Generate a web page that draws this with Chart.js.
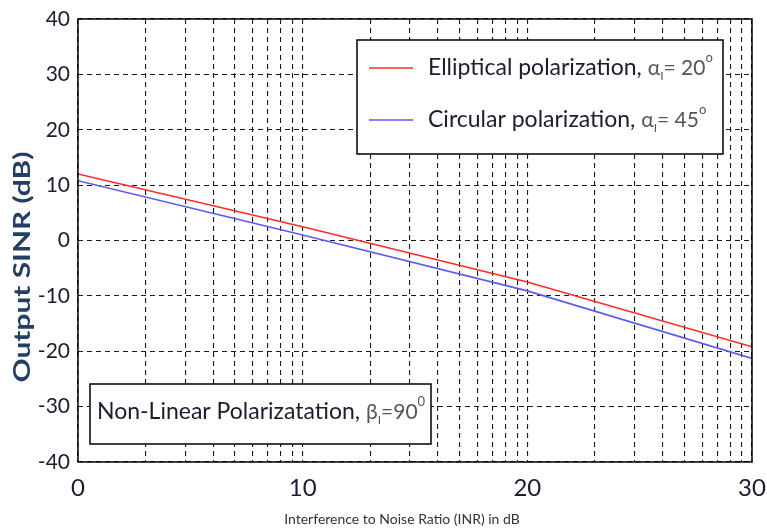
<!DOCTYPE html>
<html>
<head>
<meta charset="utf-8">
<script src="https://cdn.jsdelivr.net/npm/chart.js@4/dist/chart.umd.min.js"></script>
<style>
  html, body { margin: 0; padding: 0; background: #fff; }
  #wrap { width: 767px; height: 531px; }
</style>
</head>
<body>
<div id="wrap"><canvas id="sinrChart"></canvas></div>
<script>
'use strict';

// INR in dB (x axis is logarithmic in linear INR, labelled in dB)
var inrDb = [0, 10, 20, 30];
var ellipticalSinr = [12.0, 2.5, -7.5, -19.2];
var circularSinr = [10.8, 1.0, -9.1, -21.3];

var xTickValues = [1, 10, 100, 1000];
var xTickLabels = ['0', '10', '20', '30'];
var yTicks = [-40, -30, -20, -10, 0, 10, 20, 30, 40];
var yTitle = 'Output SINR (dB)';
var xTitle = 'Interference to Noise Ratio (INR) in dB';

var colors = {
  red      : '#ff2b2b',
  blue     : '#5b5bf2',
  grid     : '#1a1a1a',
  text     : '#1c1c2c',
  subtext  : '#555555',
  yTitle   : '#233f66'
};

var fontFamily = "Lato, 'Open Sans', 'DejaVu Sans', sans-serif";

function toPoints(ys) {
  return inrDb.map(function(d, i) { return { x: Math.pow(10, d / 10), y: ys[i] }; });
}

// gridlines of a log axis: 1..9 in every decade
function logGridTicks(scale) {
  var ticks = [];
  for (var dec = 1; dec < 1000; dec *= 10) {
    for (var m = 1; m < 10; m++) ticks.push({ value: m * dec });
  }
  ticks.push({ value: 1000 });
  scale.ticks = ticks;
}

// draws text pieces: [text, color, size, dy]
function drawRich(ctx, x, y, parts) {
  parts.forEach(function(p) {
    ctx.font = p[2] + 'px ' + fontFamily;
    ctx.fillStyle = p[1];
    ctx.fillText(p[0], x, y + (p[3] || 0));
    x += ctx.measureText(p[0]).width;
  });
}

var boxesPlugin = {
  id: 'boxes',
  afterDraw: function(chart) {
    var ctx = chart.ctx;
    var a = chart.chartArea;
    ctx.save();
    ctx.setLineDash([]);
    // axes box
    ctx.strokeStyle = '#000';
    ctx.lineWidth = 1.5;
    ctx.strokeRect(a.left, a.top, a.right - a.left, a.bottom - a.top);

    // y title, stretched along its length like the original
    ctx.save();
    ctx.translate(23, 267);
    ctx.rotate(-Math.PI / 2);
    ctx.font = 'bold 23px ' + fontFamily;
    var tw = ctx.measureText(yTitle).width;
    ctx.scale(231 / tw, 1);
    ctx.fillStyle = colors.yTitle;
    ctx.textAlign = 'center';
    ctx.textBaseline = 'middle';
    ctx.fillText(yTitle, 0, 0);
    ctx.restore();

    // x title
    ctx.save();
    ctx.font = '14px ' + fontFamily;
    ctx.fillStyle = '#333';
    ctx.textAlign = 'center';
    ctx.textBaseline = 'middle';
    ctx.fillText(xTitle, 402, 519);
    ctx.restore();

    // legend
    var lx = 357, ly = 40, lw = 366, lh = 114;
    ctx.fillStyle = '#fff';
    ctx.fillRect(lx, ly, lw, lh);
    ctx.strokeRect(lx, ly, lw, lh);
    ctx.textBaseline = 'middle';
    var rows = [
      { c: colors.red, y: 68, label: chart.data.datasets[0].label, ang: '20' },
      { c: colors.blue, y: 120, label: chart.data.datasets[1].label, ang: '45' }
    ];
    rows.forEach(function(r) {
      ctx.strokeStyle = r.c;
      ctx.lineWidth = 1.6;
      ctx.beginPath();
      ctx.moveTo(369, r.y);
      ctx.lineTo(413, r.y);
      ctx.stroke();
      drawRich(ctx, 428, r.y, [
        [r.label + ', ', colors.text, 23],
        ['\u03b1', colors.subtext, 21],
        ['I', colors.subtext, 12, 8],
        ['= ' + r.ang, colors.subtext, 21],
        ['o', colors.subtext, 13, -10]
      ]);
    });

    // annotation box
    ctx.strokeStyle = '#000';
    ctx.lineWidth = 1.5;
    ctx.fillStyle = '#fff';
    ctx.fillRect(90, 384, 341, 60);
    ctx.strokeRect(90, 384, 341, 60);
    drawRich(ctx, 97, 412, [
      ['Non-Linear Polarizatation, ', colors.text, 23],
      ['\u03b2', colors.subtext, 21],
      ['I', colors.subtext, 12, 8],
      ['=90', colors.subtext, 21],
      ['0', colors.subtext, 13, -10]
    ]);
    ctx.restore();
  }
};

new Chart(document.getElementById('sinrChart'), {
  type: 'line',
  data: {
    datasets: [
      {
        label: 'Elliptical polarization',
        data: toPoints(ellipticalSinr),
        borderColor: colors.red,
        borderWidth: 1.6,
        pointRadius: 0,
        tension: 0
      },
      {
        label: 'Circular polarization',
        data: toPoints(circularSinr),
        borderColor: colors.blue,
        borderWidth: 1.6,
        pointRadius: 0,
        tension: 0
      }
    ]
  },
  options: {
    responsive: true,
    maintainAspectRatio: false,
    animation: false,
    layout: { padding: { left: 0, top: 19, right: 15, bottom: 0 } },
    plugins: {
      legend: { display: false },
      tooltip: { enabled: false }
    },
    scales: {
      x: {
        type: 'logarithmic',
        min: 1,
        max: 1000,
        afterBuildTicks: logGridTicks,
        afterFit: function(scale) {
          scale.height = 69;
          scale.paddingLeft = 0;
          scale.paddingRight = 0;
        },
        grid: { color: colors.grid, lineWidth: 1.1, drawTicks: false },
        border: { display: false, dash: [5, 4] },
        ticks: {
          autoSkip: false,
          maxRotation: 0,
          padding: 12,
          color: colors.text,
          font: { size: 24, family: fontFamily },
          callback: function(value) {
            var i = xTickValues.indexOf(value);
            return i >= 0 ? xTickLabels[i] : '';
          }
        }
      },
      y: {
        min: -40,
        max: 40,
        afterBuildTicks: function(scale) {
          scale.ticks = yTicks.map(function(v) { return { value: v }; });
        },
        afterFit: function(scale) {
          scale.width = 78;
          scale.paddingTop = 0;
          scale.paddingBottom = 0;
        },
        grid: { color: colors.grid, lineWidth: 1.1, drawTicks: false },
        border: { display: false, dash: [5, 4] },
        ticks: {
          padding: 8,
          color: colors.text,
          font: { size: 21, family: fontFamily }
        }
      }
    }
  },
  plugins: [boxesPlugin]
});
</script>
</body>
</html>
